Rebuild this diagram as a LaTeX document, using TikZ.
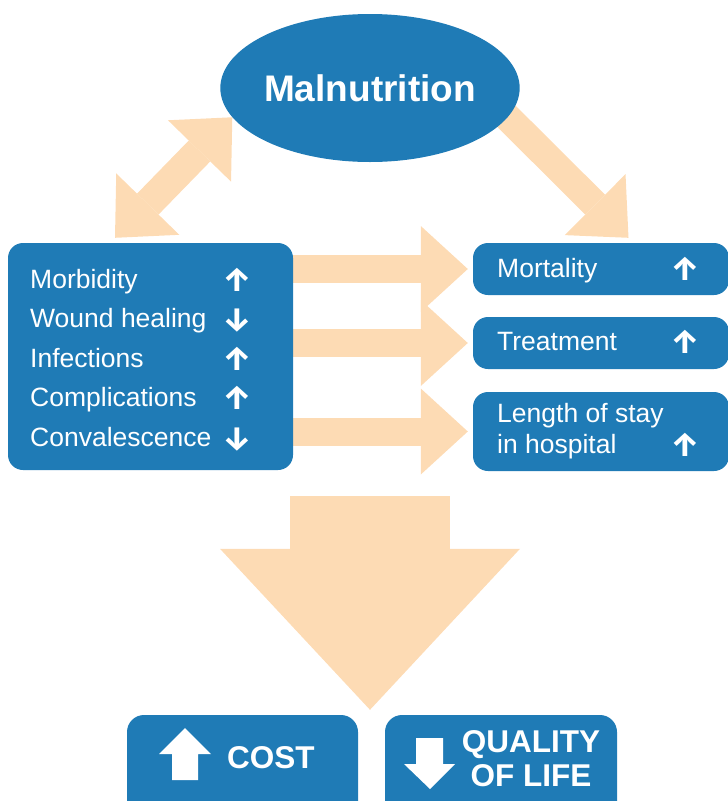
\documentclass[tikz,border=0pt]{standalone}
\usepackage{fontspec}
\setmainfont{Liberation Sans}
\newfontfamily\signfont{Fira Sans}
\usetikzlibrary{arrows.meta,calc,shapes.geometric,backgrounds}
\definecolor{boxblue}{RGB}{31,123,182}
\definecolor{peach}{RGB}{253,219,180}
\tikzset{
  box/.style={fill=boxblue, rounded corners=15pt, inner sep=0pt},
  txt/.style={text=white, anchor=base west, inner sep=0pt, font=\fontsize{26.5}{30}\selectfont},
  sign/.style={text=white, anchor=base, inner sep=0pt, font=\signfont\bfseries\fontsize{33}{35}\selectfont},
  bigtxt/.style={text=white, inner sep=0pt, font=\bfseries\fontsize{31.5}{34}\selectfont},
  fat/.style={draw=peach, line width=28pt, -{Triangle[width=86pt,length=47pt,line width=0pt]}},
}
\begin{document}
\begin{tikzpicture}[x=1pt,y=-1pt]
        \useasboundingbox (0,0) rectangle (728,801);

        % Malnutrition on top
        \node[ellipse, fill=boxblue, minimum width=290pt, minimum height=148pt, inner sep=0pt,
              text=white, font=\bfseries\fontsize{37}{40}\selectfont] (mal) at (370,88) {Malnutrition};

        % Left box with the effects
        \node[box, minimum width=285pt, minimum height=227pt] (effects) at (150.5,356.5) {};
        \foreach \word/\dir [count=\i from 0] in {Morbidity/↑, Wound healing/↓, Infections/↑, Complications/↑, Convalescence/↓} {
          \node[txt] (eff\i) at (30,288+39.5*\i) {\word};
          \node[sign] (effsign\i) at (237,291+39.5*\i) {\dir};
        }

        % Right boxes
        \node[box, minimum width=256pt, minimum height=52pt] (mort) at (601,269) {};
        \node[box, minimum width=256pt, minimum height=52pt] (treat) at (601,343) {};
        \node[box, minimum width=256pt, minimum height=79pt] (stay) at (601,431.5) {};
        \node[txt] (morttxt) at (497,277) {Mortality};
        \node[sign] (mortsign) at (685,280) {↑};
        \node[txt] (treattxt) at (497,350) {Treatment};
        \node[sign] (treatsign) at (685,353) {↑};
        \node[txt] (staytxt) at (497,422) {Length of stay};
        \node[txt] (staytxtb) at (497,453) {in hospital};
        \node[sign] (staysign) at (685,456) {↑};

        % Bottom boxes
        \node[box, rounded corners=17pt, minimum width=231pt, minimum height=115pt] (cost) at (242.5,772.5) {};
        \node[box, rounded corners=17pt, minimum width=232pt, minimum height=115pt] (life) at (501,772.5) {};
        \node[bigtxt, anchor=base west] (costtxt) at (227,768) {COST};
        \node[bigtxt, anchor=north, align=center] (lifetxt) at (531,730) {QUALITY\\OF LIFE};

        % White arrows in the bottom boxes
        \fill[white] (185,728) -- (211,754) -- (198,754) -- (198,780) -- (172,780) -- (172,754) -- (159,754) -- cycle;%
        \fill[white] (430,789) -- (455,764) -- (443,764) -- (443,738) -- (416,738) -- (416,764) -- (404,764) -- cycle;%

        % Connectors behind the boxes
        \begin{scope}[on background layer]
          \draw[draw=peach, line width=30pt, {Triangle[width=88pt,length=47pt,line width=0pt]}-{Triangle[width=88pt,length=47pt,line width=0pt]}]
            ($(effects.north)+(-35.5,-5)$) -- (mal.192);
          \draw[fat] ($(mal.center)+(108,0)$) -- ($(mort.north)+(27.5,-5)$);
          \draw[fat] (effects.east |- mort.west) -- ($(mort.west)+(-5,0)$);
          \draw[fat] (effects.east |- treat.west) -- ($(treat.west)+(-5,0)$);
          \draw[fat] (effects.east |- stay.west) -- ($(stay.west)+(-5,0)$);
          \draw[draw=peach, line width=160pt, -{Triangle[width=300pt,length=161pt,line width=0pt]}]
            ($(mal |- effects.south)+(0,26)$) -- ($(mal |- cost.north)+(0,-5)$);
        \end{scope}
\end{tikzpicture}
\end{document}
